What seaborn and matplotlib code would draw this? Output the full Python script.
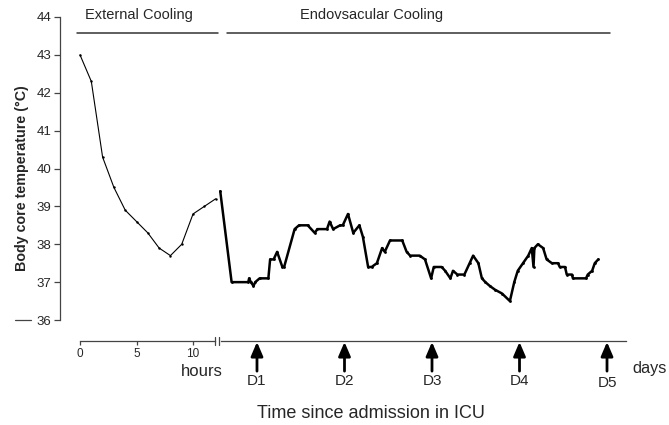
import pandas as pd
import seaborn as sns
import matplotlib
matplotlib.use('Agg')
import matplotlib.pyplot as plt
from matplotlib.lines import Line2D

# External cooling phase (hours since admission)
hours = [0, 1, 2, 3, 4, 5, 6, 7, 8, 9, 10, 11, 12]
temp_external = [43.0, 42.3, 40.3, 39.5, 38.9, 38.6, 38.3, 37.9, 37.7, 38.0, 38.8, 39.0, 39.2]

# Endovascular cooling phase (days since admission)
days = [0.58, 0.71, 0.90, 0.91, 0.93, 0.96, 0.98, 1.03, 1.13, 1.15, 1.19, 1.23, 1.29, 1.31,
        1.43, 1.48, 1.58, 1.66, 1.69, 1.80, 1.83, 1.87, 1.95, 1.98, 2.04, 2.10, 2.17, 2.21,
        2.27, 2.31, 2.37, 2.43, 2.46, 2.52, 2.66, 2.71, 2.75, 2.86, 2.92, 2.99, 3.02, 3.11,
        3.15, 3.21, 3.24, 3.29, 3.37, 3.43, 3.47, 3.53, 3.57, 3.61, 3.66, 3.72, 3.80, 3.89,
        3.94, 3.98, 4.04, 4.10, 4.14, 4.16, 4.17, 4.21, 4.27, 4.31, 4.37, 4.44, 4.46, 4.52,
        4.54, 4.60, 4.61, 4.76, 4.78, 4.83, 4.86, 4.90]
temp_endo = [39.4, 37.0, 37.0, 37.1, 37.0, 36.9, 37.0, 37.1, 37.1, 37.6, 37.6, 37.8, 37.4, 37.4,
             38.4, 38.5, 38.5, 38.3, 38.4, 38.4, 38.6, 38.4, 38.5, 38.5, 38.8, 38.3, 38.5, 38.2,
             37.4, 37.4, 37.5, 37.9, 37.8, 38.1, 38.1, 37.8, 37.7, 37.7, 37.6, 37.1, 37.4, 37.4,
             37.3, 37.1, 37.3, 37.2, 37.2, 37.5, 37.7, 37.5, 37.1, 37.0, 36.9, 36.8, 36.7, 36.5,
             37.0, 37.3, 37.5, 37.7, 37.9, 37.4, 37.9, 38.0, 37.9, 37.6, 37.5, 37.5, 37.4, 37.4,
             37.2, 37.2, 37.1, 37.1, 37.2, 37.3, 37.5, 37.6]

day_marks = [1, 2, 3, 4, 5]
day_labels = ['D1', 'D2', 'D3', 'D4', 'D5']
y_ticks = [36, 37, 38, 39, 40, 41, 42, 43, 44]

sns.set_style('ticks')
plt.rcParams['font.family'] = ['Liberation Sans', 'DejaVu Sans']

W, H = 669, 425
fig = plt.figure(figsize=(W / 100, H / 100), dpi=100)
ax_h = fig.add_axes([60 / W, 84 / H, 157 / W, 324 / H])
ax_d = fig.add_axes([217 / W, 84 / H, 423 / W, 324 / H])
for ax in (ax_h, ax_d):
    ax.set_ylim(35.446, 44)
    ax.patch.set_alpha(0)
    for s in ['top', 'right']:
        ax.spines[s].set_visible(False)
    ax.spines['bottom'].set_linewidth(0.9)
    ax.spines['bottom'].set_color('#444444')

df_h = pd.DataFrame({'hour': hours, 'temp': temp_external})
df_d = pd.DataFrame({'day': days, 'temp': temp_endo})

sns.lineplot(data=df_h, x='hour', y='temp', ax=ax_h, color='black', lw=0.8,
             marker='.', markersize=3.5, markeredgewidth=0)
sns.lineplot(data=df_d, x='day', y='temp', ax=ax_d, color='black', lw=1.8,
             marker='.', markersize=4, markeredgewidth=0, sort=False, estimator=None)

# hours axis
ax_h.set_xlim(-1.77, 12.12)
ax_h.spines['left'].set_bounds(36, 44)
ax_h.spines['left'].set_color('#444444')
ax_h.spines['left'].set_linewidth(0.9)
ax_h.spines['bottom'].set_bounds(0, 11.95)
ax_h.set_xticks([0, 5, 10])
ax_h.set_yticks(y_ticks)
ax_h.tick_params(axis='x', length=3, width=0.9, labelsize=8.5, pad=2, color='#444444')
ax_h.tick_params(axis='y', length=4, width=0.9, labelsize=9.5, pad=2, color='#444444')
ax_h.set_xlabel('')
ax_h.set_ylabel('')

# days axis
ax_d.set_xlim(0.543, 5.377)
ax_d.spines['left'].set_visible(False)
ax_d.spines['bottom'].set_bounds(0.589, 5.217)
ax_d.set_xticks([])
ax_d.set_yticks([])
ax_d.set_xlabel('')
ax_d.set_ylabel('')

# axis break marks
tr_h = ax_h.get_xaxis_transform()
ax_h.plot([11.95, 11.95], [-0.012, 0.012], color='#444444', lw=0.9, transform=tr_h, clip_on=False)
tr_d = ax_d.get_xaxis_transform()
ax_d.plot([0.566, 0.566], [-0.012, 0.012], color='#444444', lw=0.9, transform=tr_d, clip_on=False)

# day arrows
for d, lab in zip(day_marks, day_labels):
    ax_d.annotate('', xy=(d, -0.003), xytext=(d, -0.093), xycoords=tr_d, textcoords=tr_d,
                  arrowprops=dict(arrowstyle='-|>,head_width=0.3,head_length=0.7',
                                  color='black', lw=2, mutation_scale=12, shrinkA=0, shrinkB=0))
    yoff = -0.13 if lab == 'D5' else -0.123
    ax_d.text(d, yoff, lab, transform=tr_d, ha='center', va='center', fontsize=11)

# phase bars on top
fig.add_artist(Line2D([77 / W, 218 / W], [1 - 33 / H] * 2, color='#333333', lw=1.1))
fig.add_artist(Line2D([227 / W, 610 / W], [1 - 33 / H] * 2, color='#333333', lw=1.1))
fig.text(139 / W, 1 - 15 / H, 'External Cooling', ha='center', va='center', fontsize=10.5)
fig.text(372 / W, 1 - 15 / H, 'Endovsacular Cooling', ha='center', va='center', fontsize=10.5)

# small stray mark beside 36
fig.add_artist(Line2D([15 / W, 31 / W], [1 - 320 / H] * 2, color='#444444', lw=0.9))

fig.text(202 / W, 1 - 372 / H, 'hours', ha='center', va='center', fontsize=12)
fig.text(650 / W, 1 - 369 / H, 'days', ha='center', va='center', fontsize=11.7)
fig.text(371 / W, 1 - 413 / H, 'Time since admission in ICU', ha='center', va='center', fontsize=13)
fig.text(22 / W, 1 - 178 / H, 'Body core temperature (°C)', rotation=90, ha='center',
         va='center', fontsize=10.3, fontweight='bold')

fig.savefig('out.png', dpi=100)
